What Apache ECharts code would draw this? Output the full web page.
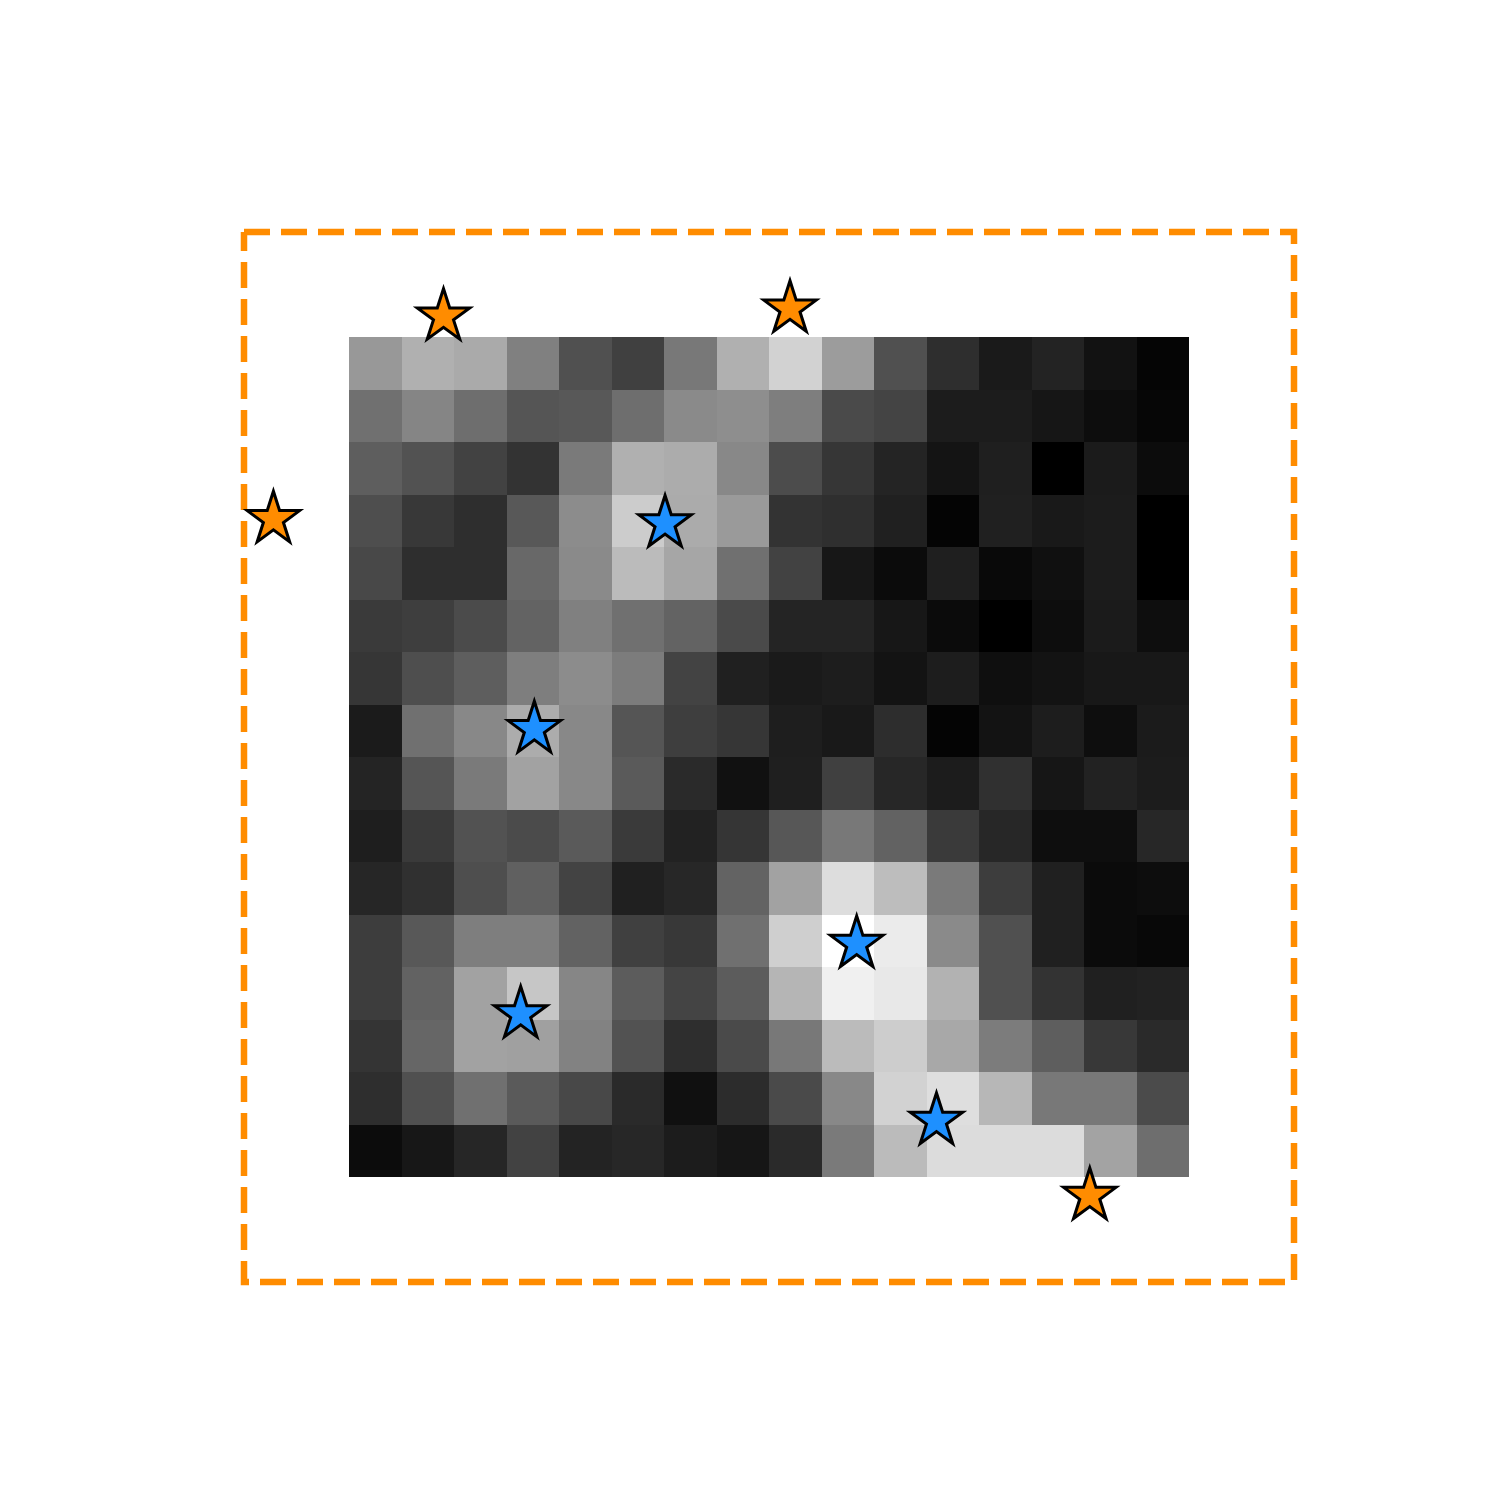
<!DOCTYPE html>
<html>
<head>
<meta charset="utf-8">
<script src="https://cdn.jsdelivr.net/npm/echarts/dist/echarts.min.js"></script>
<style>html,body{margin:0;padding:0;background:#fff;}#chart{width:1500px;height:1500px;}</style>
</head>
<body>
<div id="chart"></div>
<script>
// Grayscale image values (0 = black, 255 = white), rows top to bottom
const gridValues = [
  [152,176,170,128,80,64,120,176,210,156,80,46,26,35,18,5],
  [112,133,110,85,88,110,138,142,126,74,68,28,28,22,13,6],
  [94,82,66,51,122,176,172,136,76,54,36,20,31,0,27,12],
  [78,56,46,88,140,204,171,154,51,47,32,4,32,25,28,0],
  [72,46,46,104,138,187,166,112,66,23,11,31,9,16,28,0],
  [58,62,75,99,128,112,99,74,36,36,23,11,0,13,27,14],
  [54,78,94,126,140,124,67,32,26,29,19,29,15,19,24,24],
  [27,112,136,172,136,85,62,54,30,25,45,4,19,29,14,27],
  [36,85,122,162,136,90,42,17,31,64,39,28,48,22,34,28],
  [30,58,82,75,90,58,34,53,87,120,98,58,39,14,14,39],
  [38,48,78,96,67,32,39,99,162,221,189,122,61,32,11,13],
  [61,88,126,126,98,64,56,112,207,255,235,138,80,32,11,8],
  [61,98,162,198,134,92,68,92,181,240,232,178,80,51,32,34],
  [52,102,162,160,130,82,46,74,120,187,205,168,124,94,56,42],
  [46,80,112,90,72,42,16,44,74,136,210,222,183,120,120,75],
  [12,23,38,66,35,39,28,22,42,122,187,220,220,220,163,110]
];
// Blue star markers (inside)
const blueX = [5.52, 3.03, 9.17, 2.77, 10.69];
const blueY = [3.00, 6.92, 11.01, 12.35, 14.38];
// Orange star markers (outside)
const orangeX = [1.30, 7.90, -1.94, 13.61];
const orangeY = [-0.94, -1.09, 2.92, 15.81];
// Dashed bounding box corners
const boxX = [-2.5, 17.5, 17.5, -2.5, -2.5];
const boxY = [-2.5, -2.5, 17.5, 17.5, -2.5];

const heatData = [];
gridValues.forEach((row, r) => row.forEach((v, c) => heatData.push([c, r, v])));

const starPath = 'path://M0,-1L0.2245,-0.309L0.9511,-0.309L0.3633,0.118L0.5878,0.809L0,0.382L-0.5878,0.809L-0.3633,0.118L-0.9511,-0.309L-0.2245,-0.309Z';

const chart = echarts.init(document.getElementById('chart'), null, {renderer: 'canvas'});
chart.setOption({
  backgroundColor: '#ffffff',
  animation: false,
  grid: {left: 244, top: 232, width: 1050, height: 1050},
  xAxis: {type: 'value', min: -2.5, max: 17.5, show: false},
  yAxis: {type: 'value', min: -2.5, max: 17.5, inverse: true, show: false},
  visualMap: {
    type: 'continuous', show: false, min: 0, max: 255, dimension: 2, seriesIndex: 0,
    inRange: {color: ['#000000', '#ffffff']}
  },
  series: [
    {
      type: 'custom',
      data: heatData,
      z: 1,
      renderItem: function (params, api) {
        const x = api.value(0), y = api.value(1);
        const p0 = api.coord([x - 0.5, y - 0.5]);
        const p1 = api.coord([x + 0.5, y + 0.5]);
        const x0 = Math.round(Math.min(p0[0], p1[0]));
        const x1 = Math.round(Math.max(p0[0], p1[0]));
        const y0 = Math.round(Math.min(p0[1], p1[1]));
        const y1 = Math.round(Math.max(p0[1], p1[1]));
        return {
          type: 'rect',
          shape: {x: x0, y: y0, width: x1 - x0, height: y1 - y0},
          style: {fill: api.visual('color')}
        };
      }
    },
    {
      type: 'line',
      data: boxX.map((x, i) => [x, boxY[i]]),
      symbol: 'none',
      clip: false,
      z: 2,
      lineStyle: {color: '#ff8c00', width: 6.5, type: [26, 11], cap: 'butt', join: 'miter'}
    },
    {
      type: 'scatter',
      data: blueX.map((x, i) => [x, blueY[i]]),
      symbol: starPath,
      symbolSize: [52.5, 50.5],
      clip: false,
      z: 3,
      itemStyle: {color: '#1e90ff', borderColor: '#000000', borderWidth: 3, borderJoin: 'miter', opacity: 1}
    },
    {
      type: 'scatter',
      data: orangeX.map((x, i) => [x, orangeY[i]]),
      symbol: starPath,
      symbolSize: [52.5, 50.5],
      clip: false,
      z: 3,
      itemStyle: {color: '#ff8c00', borderColor: '#000000', borderWidth: 3, borderJoin: 'miter', opacity: 1}
    }
  ]
});
</script>
</body>
</html>
